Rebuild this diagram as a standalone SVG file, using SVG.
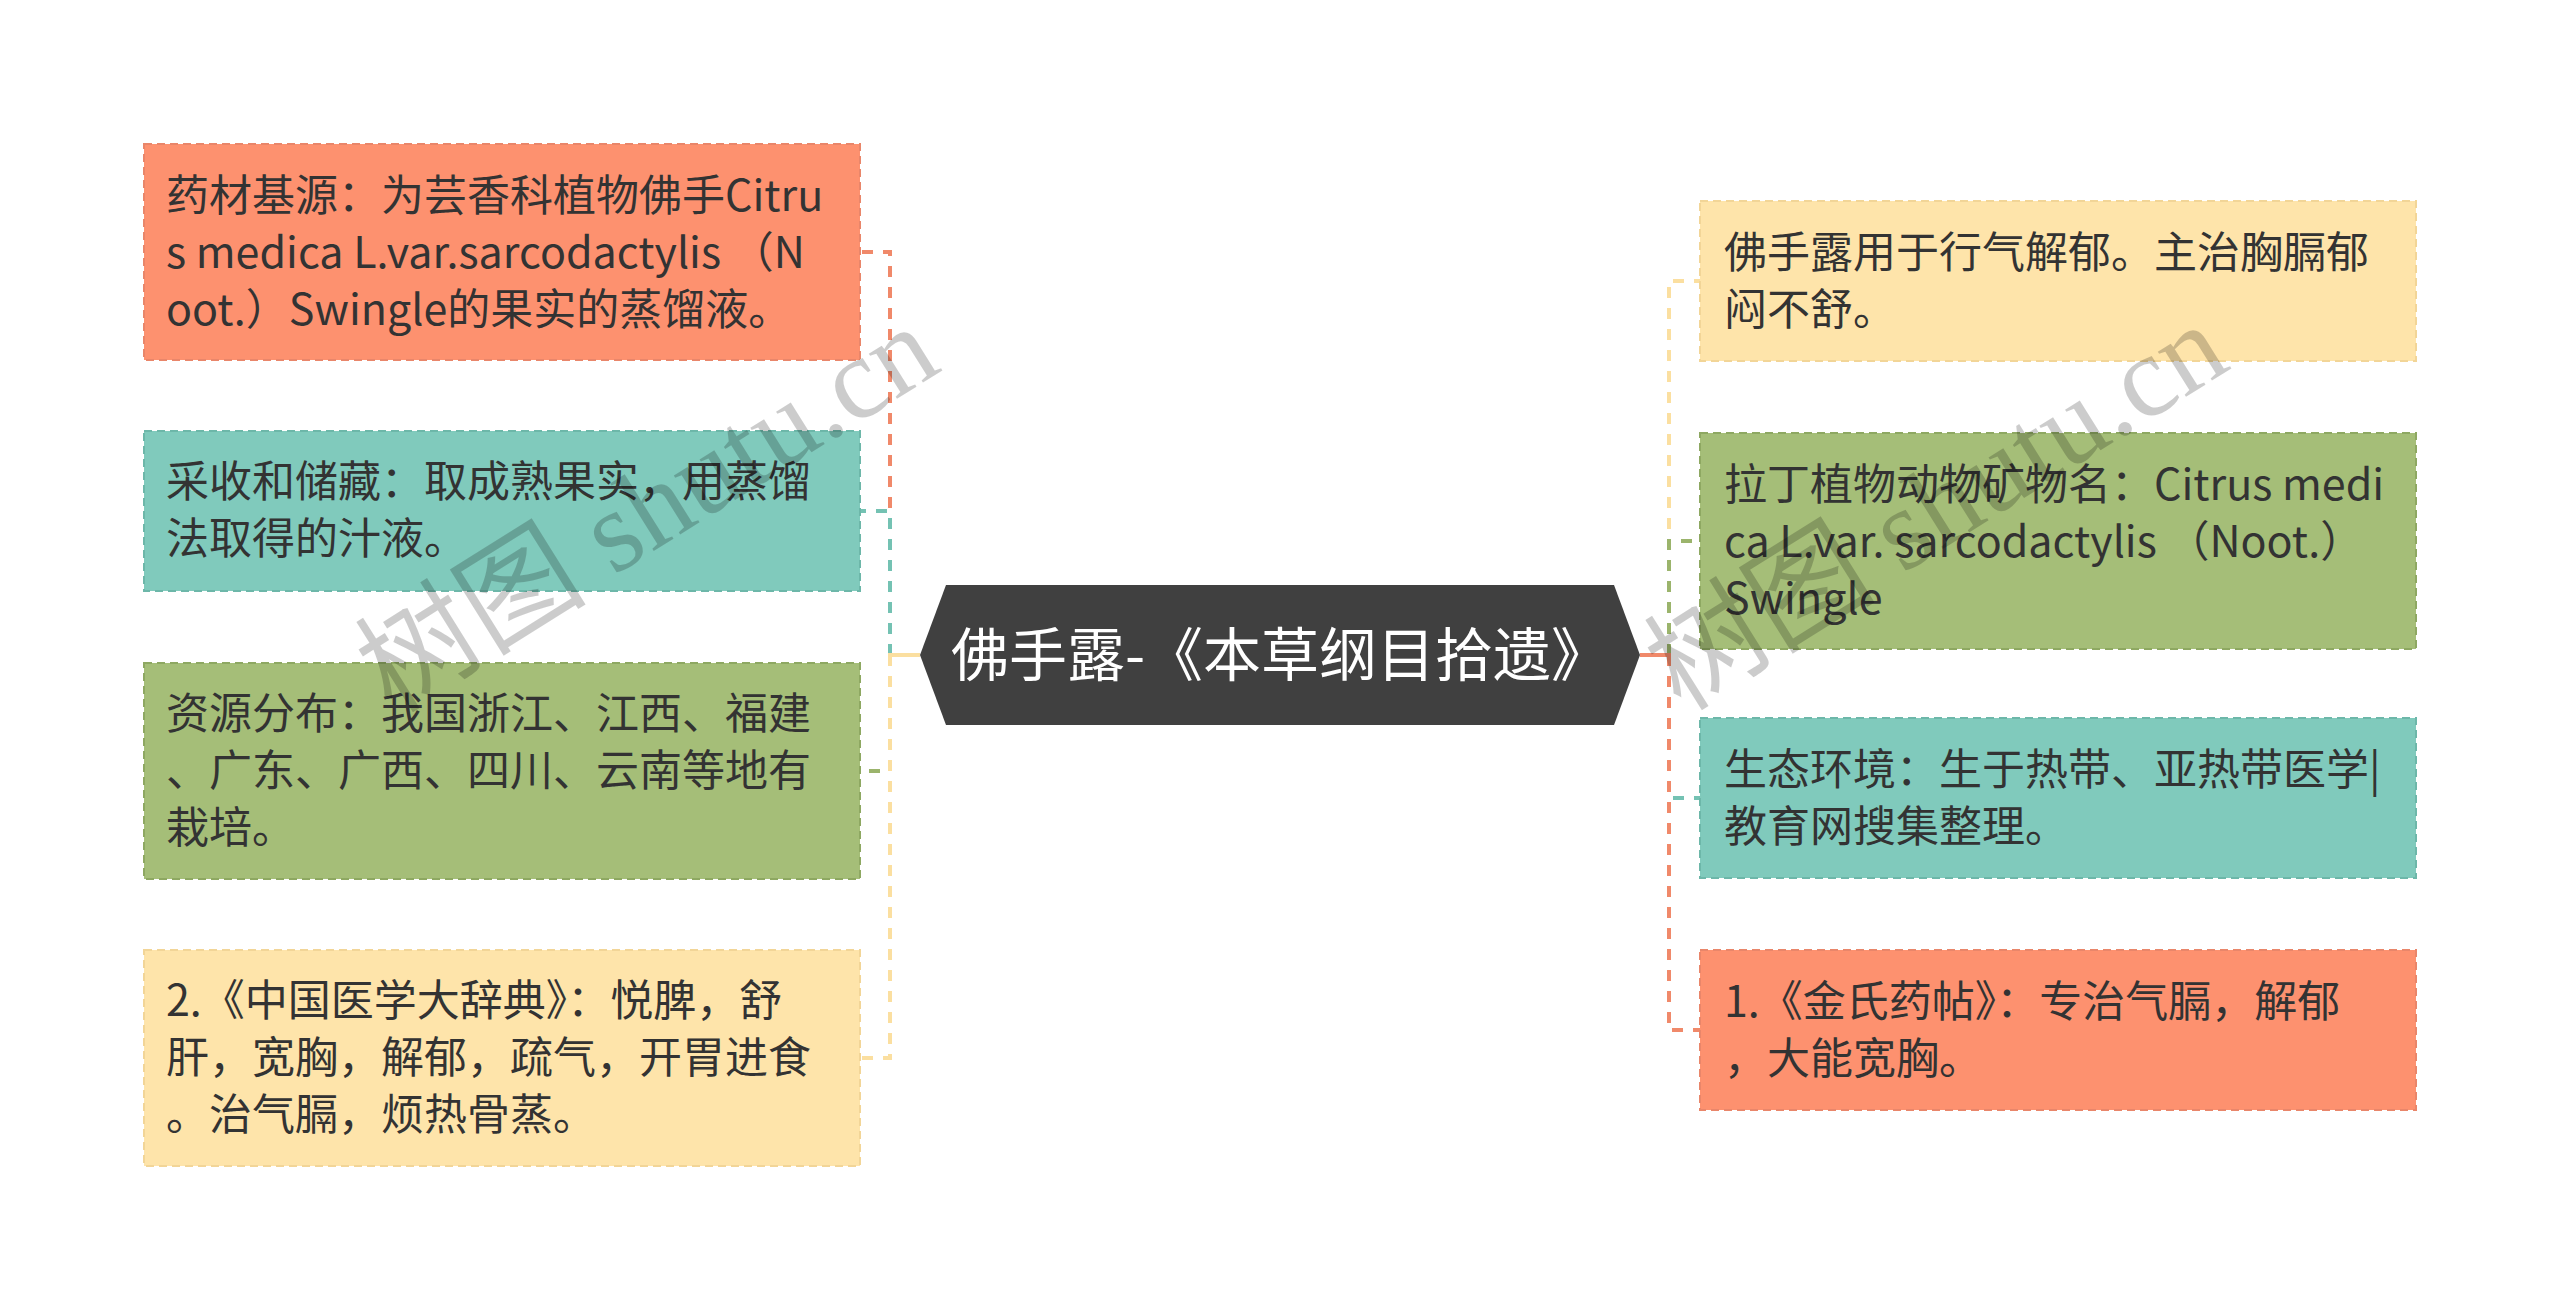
<svg xmlns="http://www.w3.org/2000/svg" width="2560" height="1311" viewBox="0 0 2560 1311">
<style>
.box{stroke-width:2;stroke-dasharray:8 5}
.t{font-family:"Noto Sans CJK SC","Noto Sans",sans-serif;font-size:43px;fill:#333333}
.title{font-family:"Noto Sans CJK SC","Noto Sans",sans-serif;font-size:58px;fill:#ffffff;text-anchor:middle}
.c{fill:none;stroke-width:4;stroke-dasharray:11 10}
.orange{fill:#FD916F;stroke:#E9866A}
.teal{fill:#80CABC;stroke:#6DB7A9}
.green{fill:#A5BE78;stroke:#8EA862}
.yellow{fill:#FEE4AA;stroke:#F2D597}
.wm{font-family:"Liberation Serif","Noto Sans CJK SC",serif;font-size:116px;fill:#000000;fill-opacity:0.2}
</style>
<rect x="0" y="0" width="2560" height="1311" fill="#ffffff"/>
<g id="connectors">
<path class="c" stroke="#F0896A" d="M890,655 V252 H860"/>
<path class="c" stroke="#74C2B3" d="M890,655 V511 H860"/>
<path class="c" stroke="#9BB46C" d="M890,655 V771 H860"/>
<path class="c" stroke="#FBDFA0" d="M890,655 V1058 H860"/>
<path fill="none" stroke="#FBDFA0" stroke-width="4" d="M920,655 H888"/>
<path class="c" stroke="#FBDFA0" d="M1669,655 V281 H1700"/>
<path class="c" stroke="#9BB46C" d="M1669,655 V541 H1700"/>
<path class="c" stroke="#74C2B3" d="M1669,655 V798 H1700"/>
<path class="c" stroke="#F0896A" d="M1669,655 V1030 H1700"/>
<path fill="none" stroke="#F0896A" stroke-width="4" d="M1640,655 H1671"/>
</g>
<g id="root">
<path d="M920,655 L946,585 L1614,585 L1640,655 L1614,725 L946,725 Z" fill="#404040"/>
<text class="title" x="1280" y="676">佛手露-《本草纲目拾遗》</text>
</g>
<g id="node-l1">
<rect class="box orange" x="144" y="144" width="716" height="216"/>
<text class="t" x="166" y="211">药材基源：为芸香科植物佛手Citru</text>
<text class="t" x="166" y="268">s medica L.var.sarcodactylis （N</text>
<text class="t" x="166" y="325">oot.）Swingle的果实的蒸馏液。</text>
</g>
<g id="node-l2">
<rect class="box teal" x="144" y="431" width="716" height="160"/>
<text class="t" x="166" y="497">采收和储藏：取成熟果实，用蒸馏</text>
<text class="t" x="166" y="554">法取得的汁液。</text>
</g>
<g id="node-l3">
<rect class="box green" x="144" y="663" width="716" height="216"/>
<text class="t" x="166" y="729">资源分布：我国浙江、江西、福建</text>
<text class="t" x="166" y="786">、广东、广西、四川、云南等地有</text>
<text class="t" x="166" y="843">栽培。</text>
</g>
<g id="node-l4">
<rect class="box yellow" x="144" y="950" width="716" height="216"/>
<text class="t" x="166" y="1016">2.《中国医学大辞典》：悦脾，舒</text>
<text class="t" x="166" y="1073">肝，宽胸，解郁，疏气，开胃进食</text>
<text class="t" x="166" y="1130">。治气膈，烦热骨蒸。</text>
</g>
<g id="node-r1">
<rect class="box yellow" x="1700" y="201" width="716" height="160"/>
<text class="t" x="1724" y="268">佛手露用于行气解郁。主治胸膈郁</text>
<text class="t" x="1724" y="325">闷不舒。</text>
</g>
<g id="node-r2">
<rect class="box green" x="1700" y="433" width="716" height="216"/>
<text class="t" x="1724" y="500">拉丁植物动物矿物名：Citrus medi</text>
<text class="t" x="1724" y="557">ca L.var. sarcodactylis （Noot.）</text>
<text class="t" x="1724" y="614">Swingle</text>
</g>
<g id="node-r3">
<rect class="box teal" x="1700" y="718" width="716" height="160"/>
<text class="t" x="1724" y="785">生态环境：生于热带、亚热带医学|</text>
<text class="t" x="1724" y="842">教育网搜集整理。</text>
</g>
<g id="node-r4">
<rect class="box orange" x="1700" y="950" width="716" height="160"/>
<text class="t" x="1724" y="1017">1.《金氏药帖》：专治气膈，解郁</text>
<text class="t" x="1724" y="1074">，大能宽胸。</text>
</g>
<g id="watermarks">
<text class="wm" text-anchor="middle" transform="translate(668,542) rotate(-32)">树图 shutu.cn</text>
<text class="wm" text-anchor="middle" transform="translate(1957,540) rotate(-32)">树图 shutu.cn</text>
</g>
</svg>
